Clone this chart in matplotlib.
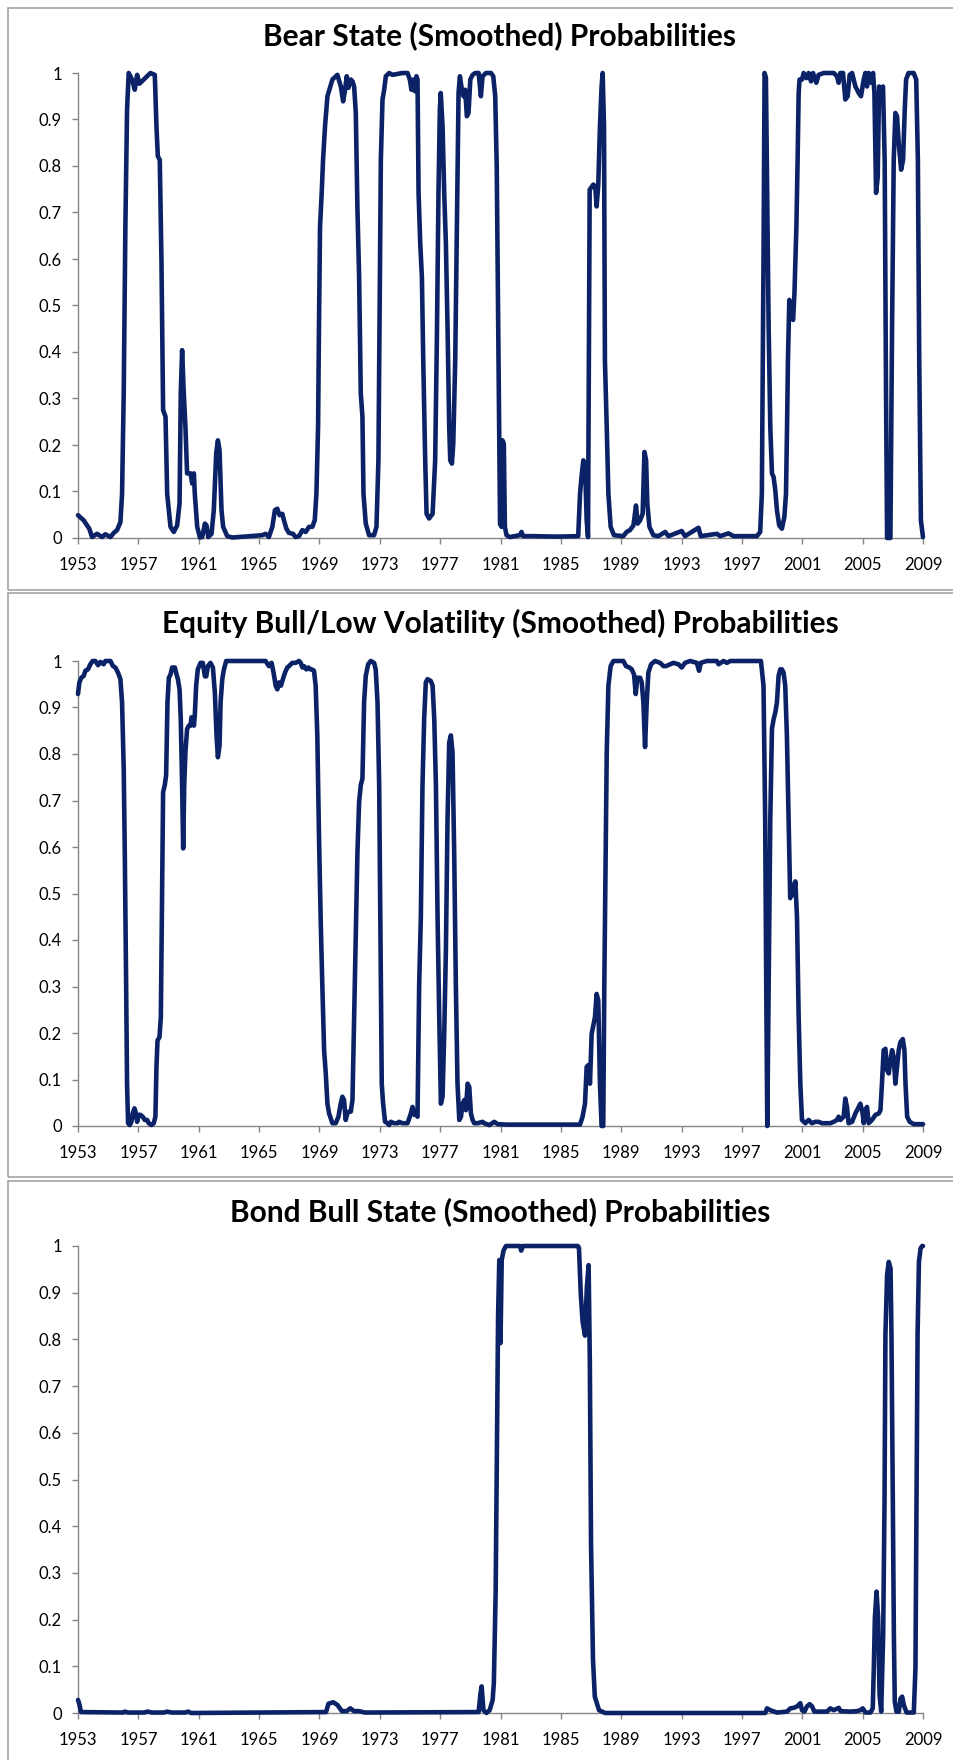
import matplotlib
matplotlib.use('Agg')
import matplotlib.pyplot as plt
from matplotlib.patches import Rectangle
from matplotlib.ticker import FuncFormatter

# Smoothed regime probabilities (year, probability)
bear_years = [
    1953.00, 1953.38, 1953.60, 1953.75, 1953.93, 1954.26, 1954.59, 1954.81, 1955.15, 1955.37,
    1955.59, 1955.81, 1955.92, 1956.03, 1956.14, 1956.25, 1956.36, 1956.58, 1956.76, 1956.92,
    1957.07, 1957.36, 1957.58, 1957.80, 1958.09, 1958.20, 1958.29, 1958.42, 1958.53, 1958.64,
    1958.80, 1958.91, 1959.13, 1959.35, 1959.57, 1959.73, 1959.81, 1959.90, 1960.01, 1960.12,
    1960.23, 1960.46, 1960.57, 1960.68, 1960.74, 1960.90, 1961.08, 1961.23, 1961.41, 1961.52,
    1961.63, 1961.85, 1962.00, 1962.16, 1962.27, 1962.38, 1962.51, 1962.62, 1962.89, 1963.22,
    1965.21, 1965.43, 1965.65, 1965.88, 1966.05, 1966.21, 1966.36, 1966.54, 1966.65, 1966.81,
    1966.98, 1967.25, 1967.42, 1967.65, 1967.87, 1968.09, 1968.31, 1968.53, 1968.69, 1968.80,
    1968.91, 1968.97, 1969.04, 1969.15, 1969.24, 1969.37, 1969.53, 1969.86, 1970.19, 1970.42,
    1970.57, 1970.70, 1970.81, 1970.92, 1971.08, 1971.19, 1971.30, 1971.41, 1971.52, 1971.63,
    1971.74, 1971.85, 1971.92, 1972.07, 1972.29, 1972.62, 1972.78, 1972.91, 1973.00, 1973.07,
    1973.18, 1973.29, 1973.40, 1973.62, 1973.84, 1974.50, 1974.84, 1974.99, 1975.10, 1975.21,
    1975.32, 1975.43, 1975.50, 1975.57, 1975.68, 1975.79, 1975.88, 1976.01, 1976.10, 1976.27,
    1976.50, 1976.67, 1976.78, 1976.89, 1976.98, 1977.04, 1977.16, 1977.27, 1977.38, 1977.49,
    1977.60, 1977.67, 1977.78, 1977.87, 1978.00, 1978.11, 1978.22, 1978.31, 1978.44, 1978.55,
    1978.66, 1978.77, 1978.88, 1979.00, 1979.15, 1979.33, 1979.55, 1979.70, 1979.81, 1980.04,
    1980.37, 1980.52, 1980.65, 1980.75, 1980.85, 1980.92, 1980.97, 1981.07, 1981.13, 1981.22,
    1981.29, 1981.40, 1981.62, 1982.28, 1982.39, 1982.50, 1983.17, 1984.72, 1986.15, 1986.27,
    1986.38, 1986.49, 1986.60, 1986.71, 1986.80, 1986.91, 1987.15, 1987.28, 1987.37, 1987.48,
    1987.59, 1987.70, 1987.77, 1987.86, 1987.92, 1988.04, 1988.15, 1988.30, 1988.52, 1989.14,
    1989.36, 1989.58, 1989.81, 1989.98, 1990.09, 1990.25, 1990.42, 1990.54, 1990.65, 1990.73,
    1990.87, 1991.13, 1991.46, 1991.91, 1992.13, 1993.01, 1993.23, 1994.12, 1994.27, 1995.34,
    1995.56, 1996.11, 1996.44, 1997.99, 1998.21, 1998.32, 1998.43, 1998.50, 1998.59, 1998.65,
    1998.77, 1998.88, 1998.99, 1999.10, 1999.21, 1999.32, 1999.47, 1999.65, 1999.81, 1999.92,
    1999.99, 2000.05, 2000.14, 2000.28, 2000.39, 2000.48, 2000.61, 2000.69, 2000.76, 2000.82,
    2000.98, 2001.09, 2001.27, 2001.42, 2001.58, 2001.71, 2001.93, 2002.08, 2002.42, 2003.08,
    2003.30, 2003.41, 2003.52, 2003.70, 2003.85, 2004.01, 2004.14, 2004.30, 2004.52, 2004.74,
    2004.89, 2005.07, 2005.18, 2005.29, 2005.40, 2005.58, 2005.69, 2005.78, 2005.89, 2006.00,
    2006.09, 2006.22, 2006.35, 2006.46, 2006.55, 2006.62, 2006.84, 2006.95, 2007.06, 2007.17,
    2007.28, 2007.39, 2007.55, 2007.68, 2007.79, 2007.88, 2008.04, 2008.38, 2008.55, 2008.66,
    2008.75, 2008.86, 2009.00,
]
bear_probs = [
    0.049, 0.038, 0.027, 0.020, 0.002, 0.009, 0.002, 0.008, 0.002, 0.011,
    0.017, 0.034, 0.095, 0.311, 0.670, 0.921, 1.000, 0.986, 0.964, 0.996,
    0.977, 0.986, 0.993, 1.000, 0.996, 0.885, 0.821, 0.813, 0.598, 0.275,
    0.261, 0.095, 0.024, 0.013, 0.027, 0.074, 0.311, 0.404, 0.311, 0.239,
    0.139, 0.139, 0.117, 0.139, 0.095, 0.024, 0.001, 0.002, 0.031, 0.027,
    0.002, 0.009, 0.060, 0.182, 0.210, 0.189, 0.060, 0.024, 0.004, 0.001,
    0.006, 0.009, 0.002, 0.024, 0.060, 0.063, 0.049, 0.052, 0.038, 0.020,
    0.011, 0.009, 0.002, 0.004, 0.017, 0.013, 0.024, 0.024, 0.038, 0.095,
    0.239, 0.454, 0.670, 0.742, 0.813, 0.885, 0.950, 0.986, 0.996, 0.971,
    0.939, 0.964, 0.993, 0.968, 0.986, 0.982, 0.971, 0.914, 0.706, 0.562,
    0.311, 0.261, 0.095, 0.031, 0.006, 0.006, 0.024, 0.167, 0.526, 0.813,
    0.943, 0.964, 0.993, 1.000, 0.996, 1.000, 1.000, 0.986, 0.964, 0.986,
    0.961, 0.993, 0.986, 0.742, 0.634, 0.562, 0.383, 0.167, 0.052, 0.042,
    0.052, 0.167, 0.419, 0.742, 0.921, 0.957, 0.885, 0.742, 0.634, 0.454,
    0.239, 0.167, 0.160, 0.203, 0.383, 0.670, 0.957, 0.993, 0.964, 0.950,
    0.964, 0.907, 0.914, 0.986, 0.996, 1.000, 1.000, 0.950, 0.993, 1.000,
    1.000, 0.993, 0.950, 0.800, 0.450, 0.180, 0.030, 0.024, 0.210, 0.203,
    0.024, 0.006, 0.002, 0.006, 0.013, 0.004, 0.004, 0.003, 0.004, 0.095,
    0.135, 0.167, 0.160, 0.038, 0.002, 0.749, 0.760, 0.756, 0.713, 0.760,
    0.885, 0.971, 1.000, 0.885, 0.383, 0.239, 0.095, 0.024, 0.006, 0.004,
    0.013, 0.017, 0.027, 0.070, 0.031, 0.038, 0.052, 0.185, 0.167, 0.074,
    0.024, 0.006, 0.004, 0.013, 0.004, 0.015, 0.004, 0.022, 0.004, 0.009,
    0.004, 0.010, 0.004, 0.004, 0.013, 0.095, 0.598, 1.000, 0.990, 0.813,
    0.454, 0.239, 0.139, 0.131, 0.103, 0.060, 0.027, 0.020, 0.045, 0.095,
    0.239, 0.383, 0.512, 0.483, 0.469, 0.526, 0.670, 0.813, 0.957, 0.986,
    0.986, 1.000, 0.989, 1.000, 0.982, 1.000, 0.979, 0.996, 1.000, 1.000,
    0.993, 0.979, 1.000, 1.000, 0.943, 0.950, 0.996, 1.000, 0.971, 0.957,
    0.950, 0.986, 1.000, 0.971, 1.000, 0.979, 1.000, 0.957, 0.742, 0.777,
    0.971, 0.964, 0.971, 0.813, 0.311, 0.000, 0.000, 0.454, 0.813, 0.914,
    0.907, 0.850, 0.792, 0.813, 0.921, 0.986, 1.000, 1.000, 0.986, 0.813,
    0.383, 0.038, 0.002,
]

equity_years = [
    1953.00, 1953.09, 1953.22, 1953.38, 1953.49, 1953.66, 1953.82, 1953.97, 1954.15, 1954.33,
    1954.48, 1954.70, 1954.81, 1955.15, 1955.32, 1955.48, 1955.65, 1955.81, 1955.92, 1956.03,
    1956.10, 1956.19, 1956.25, 1956.32, 1956.43, 1956.54, 1956.63, 1956.74, 1956.81, 1956.92,
    1957.03, 1957.14, 1957.29, 1957.42, 1957.58, 1957.69, 1957.87, 1958.02, 1958.13, 1958.20,
    1958.27, 1958.40, 1958.49, 1958.58, 1958.64, 1958.75, 1958.84, 1958.93, 1959.02, 1959.13,
    1959.24, 1959.42, 1959.50, 1959.62, 1959.73, 1959.81, 1959.90, 1959.97, 1960.04, 1960.12,
    1960.23, 1960.35, 1960.46, 1960.52, 1960.61, 1960.68, 1960.74, 1960.83, 1960.94, 1961.12,
    1961.27, 1961.41, 1961.50, 1961.61, 1961.78, 1961.94, 1962.07, 1962.18, 1962.27, 1962.38,
    1962.45, 1962.56, 1962.67, 1962.82, 1963.44, 1965.43, 1965.65, 1965.83, 1965.96, 1966.10,
    1966.21, 1966.32, 1966.45, 1966.54, 1966.72, 1966.87, 1966.98, 1967.20, 1967.42, 1967.65,
    1967.76, 1967.87, 1967.98, 1968.13, 1968.27, 1968.40, 1968.49, 1968.64, 1968.75, 1968.86,
    1968.97, 1969.08, 1969.19, 1969.31, 1969.42, 1969.53, 1969.64, 1969.86, 1970.08, 1970.26,
    1970.41, 1970.52, 1970.63, 1970.74, 1970.85, 1970.96, 1971.08, 1971.19, 1971.30, 1971.41,
    1971.52, 1971.63, 1971.74, 1971.85, 1971.89, 1971.96, 1972.07, 1972.23, 1972.40, 1972.62,
    1972.73, 1972.85, 1972.96, 1973.07, 1973.13, 1973.22, 1973.29, 1973.35, 1973.51, 1973.62,
    1973.73, 1973.95, 1974.17, 1974.28, 1974.50, 1974.84, 1975.06, 1975.17, 1975.28, 1975.39,
    1975.50, 1975.61, 1975.72, 1975.83, 1975.94, 1976.05, 1976.16, 1976.38, 1976.50, 1976.61,
    1976.72, 1976.83, 1976.94, 1977.05, 1977.16, 1977.27, 1977.38, 1977.49, 1977.60, 1977.71,
    1977.82, 1977.93, 1978.04, 1978.15, 1978.27, 1978.38, 1978.49, 1978.60, 1978.71, 1978.82,
    1978.93, 1979.04, 1979.15, 1979.26, 1979.48, 1979.81, 1979.92, 1980.26, 1980.59, 1980.81,
    1981.40, 1986.27, 1986.44, 1986.60, 1986.71, 1986.82, 1986.93, 1987.04, 1987.15, 1987.26,
    1987.37, 1987.48, 1987.59, 1987.70, 1987.81, 1987.88, 1987.97, 1988.04, 1988.15, 1988.30,
    1988.48, 1989.14, 1989.32, 1989.54, 1989.70, 1989.85, 1989.96, 1990.07, 1990.25, 1990.36,
    1990.47, 1990.58, 1990.69, 1990.80, 1990.98, 1991.24, 1991.58, 1991.80, 1991.97, 1992.24,
    1992.46, 1992.79, 1993.01, 1993.23, 1993.57, 1994.01, 1994.16, 1994.27, 1994.67, 1995.34,
    1995.45, 1995.78, 1996.00, 1996.22, 1998.26, 1998.43, 1998.54, 1998.61, 1998.68, 1998.77,
    1998.88, 1998.99, 1999.10, 1999.21, 1999.32, 1999.43, 1999.54, 1999.65, 1999.76, 1999.87,
    1999.98, 2000.09, 2000.20, 2000.31, 2000.42, 2000.54, 2000.65, 2000.76, 2000.87, 2000.98,
    2001.20, 2001.42, 2001.64, 2001.86, 2002.08, 2002.31, 2002.86, 2003.08, 2003.30, 2003.41,
    2003.52, 2003.74, 2003.85, 2003.96, 2004.07, 2004.30, 2004.52, 2004.74, 2004.85, 2005.00,
    2005.07, 2005.18, 2005.29, 2005.40, 2005.62, 2005.85, 2006.07, 2006.18, 2006.28, 2006.39,
    2006.51, 2006.62, 2006.73, 2006.84, 2006.95, 2007.06, 2007.17, 2007.28, 2007.39, 2007.50,
    2007.66, 2007.77, 2007.84, 2007.95, 2008.12, 2008.39, 2009.00,
]
equity_probs = [
    0.929, 0.954, 0.964, 0.968, 0.979, 0.982, 0.993, 1.000, 1.000, 0.991,
    0.998, 0.993, 1.000, 1.000, 0.989, 0.986, 0.975, 0.961, 0.911, 0.768,
    0.590, 0.305, 0.091, 0.006, 0.002, 0.009, 0.027, 0.038, 0.031, 0.009,
    0.024, 0.024, 0.020, 0.013, 0.013, 0.006, 0.002, 0.006, 0.020, 0.127,
    0.184, 0.191, 0.234, 0.519, 0.718, 0.733, 0.754, 0.911, 0.964, 0.971,
    0.986, 0.986, 0.975, 0.961, 0.939, 0.875, 0.733, 0.597, 0.733, 0.804,
    0.854, 0.861, 0.861, 0.879, 0.875, 0.861, 0.882, 0.947, 0.982, 0.996,
    0.996, 0.967, 0.967, 0.989, 0.996, 0.986, 0.932, 0.840, 0.793, 0.818,
    0.911, 0.961, 0.982, 1.000, 1.000, 1.000, 0.989, 0.996, 0.975, 0.947,
    0.939, 0.954, 0.947, 0.957, 0.975, 0.986, 0.989, 0.996, 0.996, 1.000,
    0.996, 0.986, 0.989, 0.982, 0.986, 0.982, 0.982, 0.979, 0.947, 0.840,
    0.626, 0.448, 0.305, 0.163, 0.113, 0.048, 0.027, 0.006, 0.006, 0.020,
    0.048, 0.063, 0.056, 0.013, 0.027, 0.031, 0.031, 0.056, 0.234, 0.412,
    0.590, 0.697, 0.733, 0.747, 0.804, 0.911, 0.968, 0.993, 1.000, 0.996,
    0.982, 0.911, 0.733, 0.305, 0.091, 0.048, 0.027, 0.009, 0.006, 0.002,
    0.009, 0.006, 0.006, 0.009, 0.006, 0.006, 0.027, 0.041, 0.024, 0.027,
    0.020, 0.305, 0.448, 0.733, 0.875, 0.954, 0.961, 0.957, 0.947, 0.875,
    0.733, 0.448, 0.234, 0.048, 0.063, 0.198, 0.376, 0.661, 0.825, 0.840,
    0.804, 0.590, 0.305, 0.091, 0.013, 0.020, 0.048, 0.056, 0.034, 0.091,
    0.084, 0.027, 0.013, 0.006, 0.006, 0.009, 0.006, 0.002, 0.009, 0.004,
    0.003, 0.003, 0.020, 0.048, 0.127, 0.131, 0.091, 0.198, 0.216, 0.234,
    0.284, 0.270, 0.091, 0.000, 0.000, 0.305, 0.590, 0.804, 0.947, 0.989,
    1.000, 1.000, 0.989, 0.986, 0.982, 0.971, 0.929, 0.964, 0.964, 0.954,
    0.911, 0.815, 0.911, 0.975, 0.993, 1.000, 0.996, 0.989, 0.989, 0.993,
    0.996, 0.993, 0.986, 0.996, 1.000, 0.996, 0.979, 0.996, 1.000, 1.000,
    0.993, 1.000, 0.996, 1.000, 1.000, 0.947, 0.661, 0.305, 0.000, 0.305,
    0.661, 0.854, 0.875, 0.889, 0.911, 0.968, 0.982, 0.982, 0.975, 0.947,
    0.840, 0.661, 0.490, 0.519, 0.497, 0.526, 0.448, 0.234, 0.091, 0.013,
    0.006, 0.013, 0.006, 0.009, 0.009, 0.006, 0.006, 0.009, 0.013, 0.020,
    0.013, 0.020, 0.059, 0.041, 0.006, 0.009, 0.027, 0.041, 0.048, 0.027,
    0.006, 0.034, 0.041, 0.006, 0.013, 0.024, 0.027, 0.034, 0.091, 0.163,
    0.166, 0.120, 0.113, 0.141, 0.163, 0.148, 0.091, 0.127, 0.163, 0.180,
    0.187, 0.163, 0.091, 0.020, 0.009, 0.004, 0.004,
]

bond_years = [
    1953.00, 1953.08, 1953.20, 1956.00, 1956.10, 1956.30, 1957.40, 1957.60, 1957.90, 1958.70,
    1958.90, 1959.20, 1960.10, 1960.30, 1960.50, 1969.44, 1969.60, 1969.92, 1970.20, 1970.49,
    1970.81, 1971.05, 1971.29, 1971.61, 1972.02, 1979.55, 1979.67, 1979.75, 1979.87, 1980.07,
    1980.28, 1980.48, 1980.56, 1980.68, 1980.76, 1980.84, 1980.92, 1981.00, 1981.08, 1981.20,
    1981.36, 1982.29, 1982.37, 1982.49, 1986.12, 1986.20, 1986.32, 1986.44, 1986.60, 1986.72,
    1986.84, 1986.92, 1987.00, 1987.13, 1987.25, 1987.53, 1987.93, 1998.55, 1998.66, 1998.88,
    1999.32, 1999.99, 2000.21, 2000.43, 2000.65, 2000.87, 2000.98, 2001.14, 2001.31, 2001.49,
    2001.65, 2001.80, 2002.64, 2002.86, 2003.08, 2003.42, 2003.53, 2004.19, 2004.63, 2004.85,
    2005.01, 2005.19, 2005.52, 2005.67, 2005.74, 2005.81, 2005.92, 2006.03, 2006.12, 2006.23,
    2006.36, 2006.45, 2006.51, 2006.62, 2006.73, 2006.85, 2006.91, 2007.00, 2007.07, 2007.13,
    2007.24, 2007.40, 2007.51, 2007.62, 2007.73, 2007.91, 2008.39, 2008.50, 2008.57, 2008.64,
    2008.73, 2008.84, 2008.95, 2009.00,
]
bond_probs = [
    0.028, 0.020, 0.002, 0.001, 0.003, 0.001, 0.001, 0.003, 0.001, 0.001,
    0.003, 0.001, 0.001, 0.003, 0.000, 0.002, 0.020, 0.023, 0.017, 0.004,
    0.004, 0.010, 0.004, 0.004, 0.001, 0.002, 0.041, 0.057, 0.006, 0.000,
    0.006, 0.028, 0.065, 0.261, 0.556, 0.851, 0.970, 0.792, 0.970, 0.990,
    1.000, 1.000, 0.990, 1.000, 1.000, 0.996, 0.897, 0.838, 0.808, 0.910,
    0.959, 0.753, 0.360, 0.114, 0.035, 0.006, 0.000, 0.000, 0.010, 0.006,
    0.001, 0.003, 0.010, 0.011, 0.014, 0.021, 0.006, 0.003, 0.014, 0.019,
    0.014, 0.003, 0.003, 0.010, 0.006, 0.011, 0.004, 0.003, 0.004, 0.006,
    0.010, 0.001, 0.001, 0.010, 0.096, 0.203, 0.260, 0.203, 0.039, 0.003,
    0.167, 0.453, 0.810, 0.938, 0.966, 0.952, 0.810, 0.453, 0.167, 0.024,
    0.003, 0.003, 0.031, 0.035, 0.017, 0.001, 0.001, 0.096, 0.453, 0.810,
    0.966, 0.995, 1.000, 1.000,
]

titles = [
    'Bear State (Smoothed) Probabilities',
    'Equity Bull/Low Volatility (Smoothed) Probabilities',
    'Bond Bull State (Smoothed) Probabilities',
]
year_ticks = list(range(1953, 2010, 4))
prob_ticks = [i / 10 for i in range(11)]

plt.rcParams['font.family'] = ['Lato', 'DejaVu Sans']

W, H = 954, 1760
LINE = '#0b2266'
AXIS = '#868686'

fig = plt.figure(figsize=(W / 100, H / 100), dpi=100)

# pixel layout of the three stacked chart boxes: (frame top, frame bottom, title y, value-1 y, value-0 y)
layout = [
    (8.5, 590, 36, 73, 538),
    (593, 1177, 623, 661, 1126),
    (1181, 1800, 1212, 1246, 1713),
]
series = [
    (bear_years, bear_probs),
    (equity_years, equity_probs),
    (bond_years, bond_probs),
]

for (ftop, fbot, ty, y1, y0), (xs, ys), title in zip(layout, series, titles):
    fig.patches.append(Rectangle((8.5 / W, 1 - fbot / H), 1.2, (fbot - ftop) / H,
                                 transform=fig.transFigure, fill=False,
                                 edgecolor='#a3a3a3', lw=1.2))

    ax = fig.add_axes([78 / W, 1 - y0 / H, 845 / W, (y0 - y1) / H])
    ax.plot(xs, ys, color=LINE, lw=3.3, clip_on=False, zorder=3,
            solid_joinstyle='round', solid_capstyle='round')
    ax.set_xlim(1953, 2009)
    ax.set_ylim(0, 1)
    ax.set_xticks(year_ticks)
    ax.set_yticks(prob_ticks)
    ax.yaxis.set_major_formatter(FuncFormatter(lambda v, p: f'{v:g}'))
    ax.patch.set_visible(False)

    for side in ['top', 'right']:
        ax.spines[side].set_visible(False)
    for side in ['left', 'bottom']:
        ax.spines[side].set_color(AXIS)
        ax.spines[side].set_linewidth(1.0)

    ax.tick_params(axis='both', color=AXIS, length=4.5, width=1.0,
                   labelsize=12, labelcolor='black', direction='out')
    ax.tick_params(axis='x', pad=9)
    ax.tick_params(axis='y', pad=7)

    fig.text(500 / W, 1 - ty / H, title, ha='center', va='center',
             fontsize=21.5, fontweight='bold', color='black')

fig.savefig('out.png', dpi=100, facecolor='white')
